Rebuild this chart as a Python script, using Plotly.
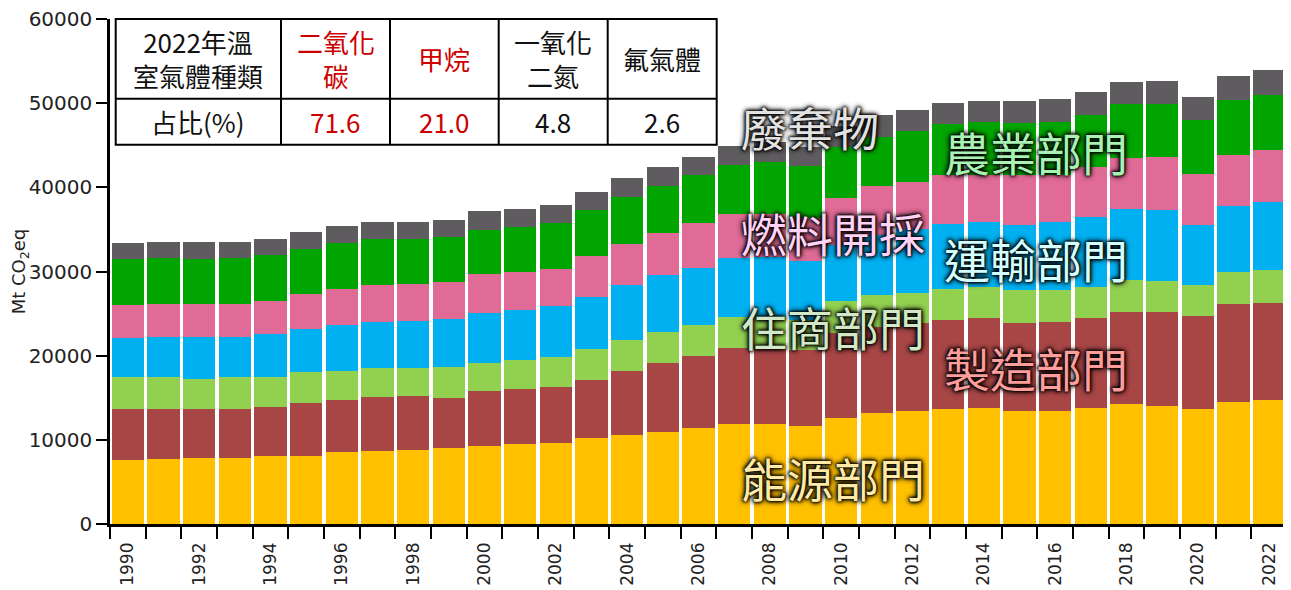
import plotly.graph_objects as go

# ---------------- data ----------------
years = list(range(1990, 2023))

energy = [7570, 7720, 7880, 7880, 8040, 8040, 8520, 8710, 8850, 8990, 9300, 9470, 9620,
          10250, 10570, 10890, 11370, 11840, 11840, 11680, 12550, 13150, 13420, 13630,
          13750, 13460, 13460, 13750, 14220, 14060, 13630, 14530, 14700]
manufacturing = [6060, 5910, 5750, 5750, 5900, 6370, 6210, 6340, 6340, 6020, 6540, 6530, 6690,
                 6860, 7640, 8280, 8590, 9030, 9030, 8990, 10150, 10300, 10500, 10610,
                 10690, 10460, 10580, 10690, 11000, 11160, 11120, 11610, 11590]
buildings = [3800, 3800, 3640, 3800, 3490, 3650, 3480, 3480, 3340, 3640, 3330, 3480, 3490,
             3680, 3690, 3680, 3680, 3720, 3720, 3570, 3800, 3750, 3480, 3680,
             3750, 3880, 3760, 3750, 3770, 3650, 3610, 3830, 3850]
transport = [4630, 4750, 4910, 4750, 5110, 5110, 5390, 5430, 5590, 5740, 5900, 5900, 6060,
             6180, 6490, 6700, 6830, 6980, 7170, 7000, 6650, 7100, 7600, 7680,
             7650, 7720, 8040, 8320, 8430, 8430, 7160, 7810, 8080]
fugitive = [3960, 3990, 3990, 3990, 3950, 4120, 4320, 4430, 4450, 4320, 4590, 4600, 4430,
            4900, 4910, 5060, 5250, 5220, 5030, 5160, 5540, 5890, 5590, 5860,
            5660, 5940, 5620, 5940, 6100, 6340, 6060, 6020, 6210]
agriculture = [5430, 5430, 5280, 5430, 5430, 5380, 5430, 5430, 5250, 5390, 5270, 5260, 5430,
               5430, 5590, 5540, 5710, 5900, 6260, 6130, 6130, 5820, 6140, 6020,
               6300, 6140, 6340, 6140, 6340, 6220, 6380, 6530, 6530]
waste = [1900, 1860, 2010, 1860, 1900, 2060, 2050, 2020, 2020, 2050, 2220, 2220, 2210,
         2180, 2210, 2220, 2210, 2210, 2300, 2300, 2480, 2580, 2450, 2500,
         2490, 2690, 2690, 2690, 2690, 2810, 2810, 2890, 3010]

series_names = ["能源部門", "製造部門", "住商部門", "運輸部門", "燃料開採", "農業部門", "廢棄物"]
series_values = [energy, manufacturing, buildings, transport, fugitive, agriculture, waste]

x_tick_years = list(range(1990, 2023, 2))
y_tick_values = [0, 10000, 20000, 30000, 40000, 50000, 60000]

table_header = ["2022年溫<br>室氣體種類", "二氧化<br>碳", "甲烷", "一氧化<br>二氮", "氟氣體"]
table_row = ["占比(%)", "71.6", "21.0", "4.8", "2.6"]

# ---------------- styles ----------------
colors = ["#FFC000", "#A84646", "#92D050", "#00B0F0", "#E06B96", "#00A500", "#5E5C5E"]
label_colors = ["#FFE9A6", "#FF9C9C", "#D3E8C6", "#D4FFFF", "#FFD2F6", "#A9F2B4", "#E2E2E2"]
# label centres in window pixels (x, y)
label_pos = [(833, 477), (1036, 367), (833, 326), (1036, 258), (833, 232), (1036, 151), (810, 126)]

OFF = 8  # default body margin of the html page
WIN_W, WIN_H = 1291, 590
W, H = WIN_W - OFF, WIN_H - OFF
PL, PR, PT, PB = 110, 1287, 19, 524  # plot area in window pixels


def px(x):
    return (x - PL) / (PR - PL)


def py(y):
    return (PB - y) / (PB - PT)


fig = go.Figure()
for name, vals, col in zip(series_names, series_values, colors):
    fig.add_trace(go.Bar(x=years, y=vals, name=name, marker=dict(color=col, line=dict(width=0))))

TICKFONT = "DejaVu Sans"
CJK = "Noto Sans CJK TC"

fig.update_layout(
    width=W, height=H,
    barmode="stack", bargap=0.1,
    showlegend=False,
    plot_bgcolor="white", paper_bgcolor="white",
    margin=dict(l=PL - OFF, r=WIN_W - PR, t=PT - OFF, b=WIN_H - PB),
    xaxis=dict(
        range=[1989.5, 2022.5], automargin=False,
        tickmode="array", tickvals=x_tick_years, ticktext=[str(y) for y in x_tick_years],
        tickangle=-90, ticks="outside", ticklen=9, tickcolor="rgba(0,0,0,0)",
        tickfont=dict(family=TICKFONT, size=17, color="#222"),
        ticklabeloverflow="allow",
        minor=dict(tickmode="linear", tick0=1989.5, dtick=1, ticks="outside",
                   ticklen=12, tickwidth=2, tickcolor="black"),
        showline=True, linecolor="black", linewidth=2.5,
        showgrid=False, zeroline=False,
    ),
    yaxis=dict(
        range=[0, 60000], automargin=False,
        tickmode="array", tickvals=y_tick_values, ticktext=[str(v) for v in y_tick_values],
        ticks="outside", ticklen=11, tickwidth=2, tickcolor="black",
        tickfont=dict(family=TICKFONT, size=20, color="#222"),
        ticklabeloverflow="allow",
        showline=True, linecolor="black", linewidth=2.5,
        showgrid=False, zeroline=False,
        title=dict(text="Mt CO<sub>2</sub>eq", font=dict(family=TICKFONT, size=18, color="#222"),
                   standoff=2),
    ),
)

# ---------------- table ----------------
TL, TR, TT, TB, TM = 115.7, 716.7, 19, 144.7, 98.7
col_edges = [TL, 281, 390, 498.7, 607.7, TR]
shapes = [dict(type="rect", xref="paper", yref="paper", x0=px(TL), x1=px(TR), y0=py(TB), y1=py(TT),
               fillcolor="white", line=dict(color="black", width=2), layer="above")]
shapes.append(dict(type="line", xref="paper", yref="paper", x0=px(TL), x1=px(TR), y0=py(TM), y1=py(TM),
                   line=dict(color="black", width=2), layer="above"))
for ce in col_edges[1:-1]:
    shapes.append(dict(type="line", xref="paper", yref="paper", x0=px(ce), x1=px(ce), y0=py(TB), y1=py(TT),
                       line=dict(color="black", width=2), layer="above"))

cell_colors = ["#111", "#CC0000", "#CC0000", "#111", "#111"]
annotations = []
for i in range(5):
    cx = (col_edges[i] + col_edges[i + 1]) / 2
    annotations.append(dict(xref="paper", yref="paper", x=px(cx), y=py((TT + TM) / 2),
                            text=table_header[i], showarrow=False, xanchor="center", yanchor="middle",
                            font=dict(family=CJK, size=26, color=cell_colors[i])))
    annotations.append(dict(xref="paper", yref="paper", x=px(cx), y=py((TM + TB) / 2),
                            text=table_row[i], showarrow=False, xanchor="center", yanchor="middle",
                            font=dict(family=CJK, size=26, color=cell_colors[i])))

# ---------------- sector labels ----------------
for name, lc, (lx, ly) in zip(series_names, label_colors, label_pos):
    annotations.append(dict(xref="paper", yref="paper", x=px(lx), y=py(ly), text=name,
                            showarrow=False, xanchor="center", yanchor="middle",
                            font=dict(family=CJK, size=46, color=lc,
                                      shadow="0px 0px 3px #000, 0px 0px 3px #000, 0px 0px 5px #000, 0px 0px 6px #000")))

fig.update_layout(shapes=shapes, annotations=annotations)
fig.write_html("out.html")
